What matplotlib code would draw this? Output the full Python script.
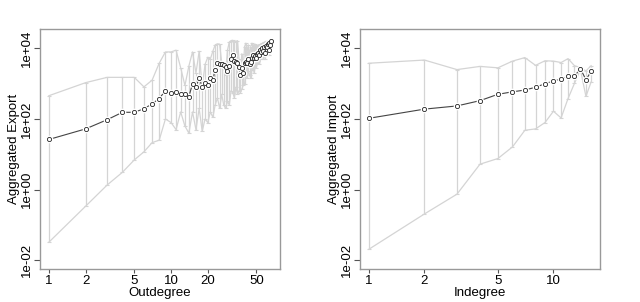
import numpy as np
import matplotlib
matplotlib.use("Agg")
import matplotlib.pyplot as plt

plt.rcParams["font.family"] = ["Liberation Sans", "DejaVu Sans"]

# left panel: outdegree vs aggregated export (log10 values)
outdegree = list(range(1, 67))
export_mean = [1.42, 1.72, 1.98, 2.19, 2.19, 2.29, 2.43, 2.58, 2.80, 2.73,
               2.76, 2.71, 2.70, 2.63, 3.00, 2.90, 3.16, 2.91, 3.01, 2.95,
               3.16, 3.10, 3.39, 3.59, 3.57, 3.57, 3.52, 3.46, 3.37, 3.50,
               3.71, 3.80, 3.65, 3.62, 3.60, 3.47, 3.25, 3.45, 3.31, 3.59,
               3.62, 3.58, 3.69, 3.55, 3.62, 3.74, 3.80, 3.72, 3.78, 3.74,
               3.85, 3.87, 3.80, 3.95, 3.90, 4.02, 3.92, 4.05, 3.88, 4.08,
               4.05, 4.12, 3.96, 4.15, 4.10, 4.20]
export_upper = [2.66, 3.03, 3.18, 3.18, 3.18, 2.91, 3.10, 3.58, 3.90, 3.90,
                3.95, 3.45, 2.95, 3.50, 3.90, 3.30, 3.92, 2.90, 3.55, 3.75,
                3.70, 3.92, 4.10, 4.13, 4.12, 3.60, 3.45, 3.25, 3.95, 4.18,
                4.22, 4.23, 4.18, 4.20, 4.22, 3.70, 3.30, 3.85, 3.40, 4.05,
                4.15, 3.90, 4.10, 3.80, 4.05, 4.15, 4.10, 3.95, 4.12, 4.08,
                4.05, 4.10, 3.95, 4.12, 4.05, 4.15, 4.10, 4.18, 4.05, 4.20,
                4.12, 4.22, 4.08, 4.22, 4.18, 4.25]
export_lower = [-1.49, -0.47, 0.13, 0.49, 0.84, 1.07, 1.33, 1.40, 2.00, 1.90,
                1.70, 2.20, 1.80, 1.60, 2.20, 1.70, 2.30, 1.65, 2.00, 1.90,
                2.20, 2.05, 2.40, 2.60, 2.30, 2.70, 2.40, 2.30, 2.50, 2.40,
                2.80, 2.75, 2.60, 2.90, 2.70, 2.80, 2.75, 2.85, 2.95, 3.00,
                3.30, 3.15, 3.35, 3.25, 3.15, 3.40, 3.45, 3.30, 3.55, 3.45,
                3.60, 3.65, 3.55, 3.70, 3.75, 3.80, 3.70, 3.85, 3.70, 3.90,
                3.85, 3.95, 3.80, 4.00, 3.95, 4.05]

# right panel: indegree vs aggregated import
indegree = list(range(1, 17))
import_mean = [2.02, 2.28, 2.37, 2.52, 2.70, 2.77, 2.82, 2.90, 3.00, 3.08,
               3.13, 3.21, 3.21, 3.43, 3.11, 3.35]
import_upper = [3.58, 3.67, 3.40, 3.49, 3.45, 3.64, 3.74, 3.52, 3.65, 3.64,
                3.60, 3.71, 3.51, 3.46, 3.36, 3.51]
import_lower = [-1.69, -0.69, -0.13, 0.72, 0.88, 1.21, 1.68, 1.72, 1.90, 2.22,
                2.03, 2.58, 3.01, 3.40, 2.64, 3.05]

yticks = [1e-2, 1e0, 1e2, 1e4]
ytick_labels = ["1e-02", "1e+00", "1e+02", "1e+04"]

fig = plt.figure(figsize=(6.4, 3.02), dpi=100)
ax1 = fig.add_axes([40/640, 33/302, 240/640, 240/302])
ax2 = fig.add_axes([360/640, 33/302, 240/640, 240/302])

panels = [
    (ax1, outdegree, export_mean, export_upper, export_lower, [1, 2, 5, 10, 20, 50], "Outdegree", "Aggregated Export"),
    (ax2, indegree, import_mean, import_upper, import_lower, [1, 2, 5, 10], "Indegree", "Aggregated Import"),
]

grey = "#d4d4d4"
for ax, x, m, up, lo, xt, xl, yl in panels:
    x = np.array(x, dtype=float)
    m = 10 ** np.array(m)
    up = 10 ** np.array(up)
    lo = 10 ** np.array(lo)
    ax.set_xscale("log")
    ax.set_yscale("log")
    # error bars and envelopes
    ax.vlines(x, lo, up, color=grey, lw=0.9, zorder=1)
    ax.plot(x, up, color=grey, lw=0.9, marker="_", ms=3.5, mew=0.8, zorder=1)
    ax.plot(x, lo, color=grey, lw=0.9, marker="_", ms=3.5, mew=0.8, zorder=1)
    # mean line, R type="b" style gaps
    ax.plot(x, m, color="#444444", lw=0.8, zorder=2)
    ax.plot(x, m, ls="none", marker="o", ms=5.5, mfc="white", mec="none", zorder=3)
    ax.plot(x, m, ls="none", marker="o", ms=3.0, mfc="white", mec="#222222", mew=0.6, zorder=4)

    lx = np.log10(x.max())
    ax.set_xlim(10 ** (-0.04 * lx), 10 ** (lx * 1.04))
    ax.set_ylim(10 ** -2.25, 10 ** 4.55)
    ax.set_xticks(xt)
    ax.set_xticklabels([str(v) for v in xt])
    ax.xaxis.set_minor_locator(matplotlib.ticker.NullLocator())
    ax.yaxis.set_minor_locator(matplotlib.ticker.NullLocator())
    ax.set_yticks(yticks)
    ax.set_yticklabels(ytick_labels, rotation=90, va="center")
    ax.tick_params(axis="x", length=3, width=0.8, color="#555555", labelsize=9.5, pad=1)
    ax.tick_params(axis="y", length=4, width=0.8, color="#555555", labelsize=9.5, pad=1)
    for s in ax.spines.values():
        s.set_color("#999999")
        s.set_linewidth(1.0)
    ax.set_xlabel(xl, fontsize=9.5, labelpad=0)
    ax.set_ylabel(yl, fontsize=9.5, labelpad=1)

fig.savefig("out.png", dpi=100, facecolor="white")
